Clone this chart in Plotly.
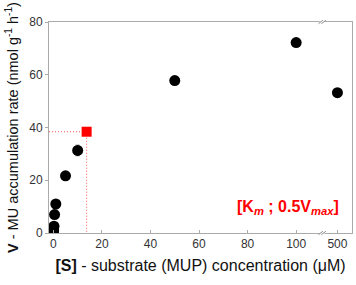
import plotly.graph_objects as go

# Data
conc = [0.02, 0.05, 0.1, 0.25, 0.5, 1, 5, 10, 50, 100, 500]
rate = [0.2, 0.8, 1.5, 2.6, 7.0, 11.0, 21.7, 31.3, 57.8, 72.2, 53.2]
rate_err = [0, 0, 0, 0, 0.5, 0.6, 0.8, 2.0, 0.8, 0.8, 0.8]
km = 13.7
half_vmax = 38.4
km_err = 0.8
half_vmax_err = 1.2
x_ticks = [0, 20, 40, 60, 80, 100, 500]
y_ticks = [0, 20, 40, 60, 80]

# broken axis: values above 100 shown at a compressed position
BREAK_POS = 110.7
HIGH_POS = 117.0
def xpos(v):
    return v if v <= 100 else HIGH_POS

fig = go.Figure()

grey = "#aaaaaa"
red = "#ff0000"

# dotted guide lines to Km / 0.5 Vmax
fig.add_trace(go.Scatter(x=[-1.8, km], y=[half_vmax, half_vmax], mode="lines",
                         line=dict(color="#ff5555", width=1, dash="1px,2px"), hoverinfo="skip"))
fig.add_trace(go.Scatter(x=[km, km], y=[half_vmax, 0], mode="lines",
                         line=dict(color="#ff5555", width=1, dash="1px,2px"), hoverinfo="skip"))

fig.add_trace(go.Scatter(
    x=[xpos(c) for c in conc], y=rate, mode="markers",
    marker=dict(color="black", size=11, symbol="circle"),
    error_y=dict(type="data", array=rate_err, color="#777777", thickness=1, width=2),
))

fig.add_trace(go.Scatter(
    x=[km], y=[half_vmax], mode="markers",
    marker=dict(color=red, size=10, symbol="square"),
    error_y=dict(type="data", array=[half_vmax_err], color="#ff6666", thickness=1, width=2),
    error_x=dict(type="data", array=[km_err], color="#ff6666", thickness=1, width=2),
))

# axis break marks (white gap + two slashes) at top and bottom
for yb in [0, 1]:
    fig.add_shape(type="line", xref="x", yref="paper", x0=BREAK_POS - 1.0, x1=BREAK_POS + 1.0,
                  y0=yb, y1=yb, line=dict(color="white", width=3))
    for dx in [-0.6, 0.6]:
        fig.add_shape(type="line", xref="x", yref="paper",
                      x0=BREAK_POS + dx - 0.9, x1=BREAK_POS + dx + 0.9,
                      y0=yb - 0.008, y1=yb + 0.008,
                      line=dict(color="#888888", width=1))

fig.add_annotation(
    x=0.965, y=0.12, xref="paper", yref="paper", xanchor="right", yanchor="middle",
    text="<b>[K<sub><i>m</i></sub> ; 0.5V<sub><i>max</i></sub>]</b>",
    showarrow=False, font=dict(color=red, size=16, family="Liberation Sans, Arial"),
)

fig.update_layout(
    width=356, height=285,
    margin=dict(l=49, r=4, t=22, b=52),
    plot_bgcolor="white", paper_bgcolor="white",
    showlegend=False,
    font=dict(family="Liberation Sans, Arial", color="#333333", size=12),
)
fig.update_xaxes(
    range=[-1.8, 123], tickvals=[xpos(v) for v in x_ticks], ticktext=[str(v) for v in x_ticks],
    showline=True, linecolor=grey, linewidth=1, mirror=True,
    ticks="inside", ticklen=3, tickcolor=grey, showgrid=False, zeroline=False,
    title=dict(text="<b>[S]</b> - substrate (MUP) concentration (μM)", font=dict(size=16, color="#111111"), standoff=9),
)
fig.update_yaxes(
    range=[0, 80], tickvals=y_ticks,
    showline=True, linecolor=grey, linewidth=1, mirror=True,
    ticks="outside", ticklen=3, tickcolor=grey, showgrid=False, zeroline=False,
    title=dict(text="<b>V</b> - MU accumulation rate (nmol g<sup>-1</sup> h<sup>-1</sup>)", font=dict(size=14.5, color="#111111"), standoff=7),
)

fig.write_html("out.html")
